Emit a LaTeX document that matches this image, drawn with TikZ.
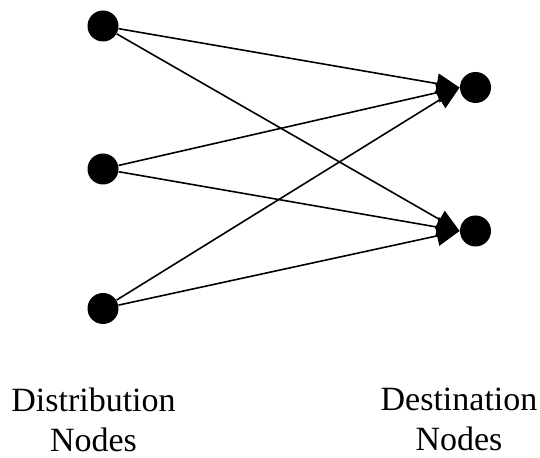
\documentclass[tikz,border=0pt]{standalone}
\usepackage{fontspec}
\setmainfont{Liberation Serif}
\usepackage{tikz}
\usetikzlibrary{arrows.meta,positioning}

\begin{document}
\begin{tikzpicture}[x=0.5pt,y=0.5pt,
    vertex/.style={circle,fill=black,minimum size=15.5pt,inner sep=0pt},
    flow/.style={line width=0.8pt,-{Triangle[length=11.5pt,width=10pt]}},
    caption/.style={align=center,inner sep=0pt,font=\fontsize{17}{20}\selectfont}]
            \useasboundingbox (0,0) rectangle (540,458);
            % distribution side
            \node[vertex] (d1) at (103,432) {};
            \node[vertex] (d2) at (103,289) {};
            \node[vertex] (d3) at (103,149.5) {};
            % destination side
            \node[vertex] (t1) at (475.5,370.5) {};
            \node[vertex] (t2) at (475.5,227) {};

            \draw[flow] (d1) -- (t1.west);
            \draw[flow] (d1) -- (t2.west);
            \draw[flow] (d2) -- (t1.west);
            \draw[flow] (d2) -- (t2.west);
            \draw[flow] (d3) -- (t1.west);
            \draw[flow] (d3) -- (t2.west);

            \node[caption,anchor=north] (dlabel) at (93.5,70) {Distribution\\Nodes};
            \node[caption,anchor=north] (tlabel) at (459,70) {Destination\\Nodes};
        \end{tikzpicture}
\end{document}
